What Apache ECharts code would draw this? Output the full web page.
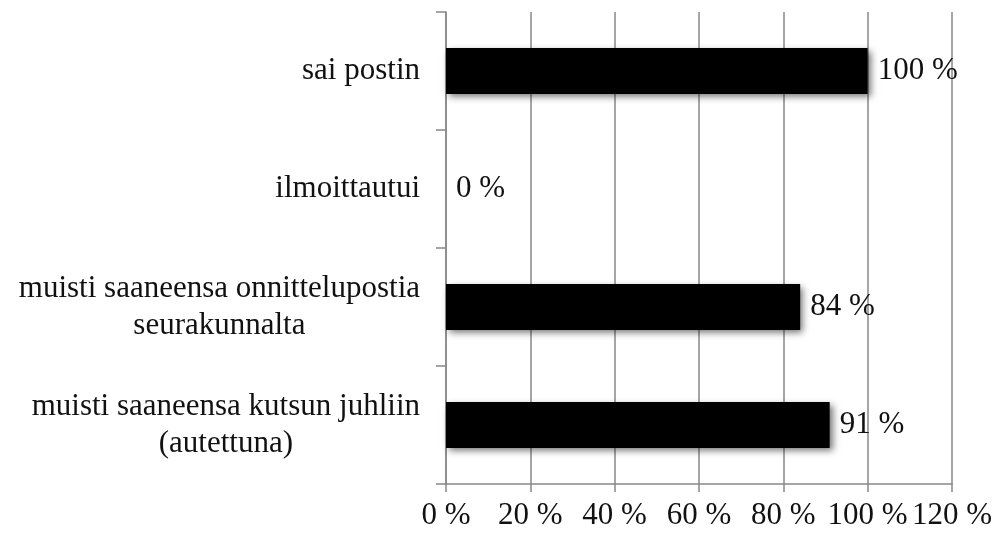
<!DOCTYPE html>
<html>
<head>
<meta charset="utf-8">
<script src="https://cdn.jsdelivr.net/npm/echarts@6/dist/echarts.min.js"></script>
<style>
  html, body { margin: 0; padding: 0; background: #fff; }
  #chart { width: 995px; height: 539px; }
</style>
</head>
<body>
<div id="chart"></div>
<script>
// categories listed bottom to top (category axis on y starts at the bottom)
const categories = [
  'muisti saaneensa kutsun juhliin\n(autettuna)',
  'muisti saaneensa onnittelupostia\nseurakunnalta',
  'ilmoittautui',
  'sai postin'
]
const values = [91, 84, 0, 100]
const xTicks = [0, 20, 40, 60, 80, 100, 120]

const font = '"Liberation Serif", "DejaVu Serif", serif'
const chart = echarts.init(document.getElementById('chart'))

chart.setOption({
  animation: false,
  grid: { left: 446, right: 43, top: 12, bottom: 55 },
  xAxis: {
    type: 'value',
    min: xTicks[0],
    max: xTicks[xTicks.length - 1],
    interval: 20,
    axisLine: { show: true, lineStyle: { color: '#888', width: 1.5 } },
    axisTick: { show: true, length: 8, lineStyle: { color: '#888', width: 1.5 } },
    splitLine: { show: true, lineStyle: { color: '#888', width: 1.5 } },
    axisLabel: {
      margin: 16,
      color: '#111',
      fontFamily: font,
      fontSize: 31,
      formatter: (v) => `${v} %`,
    },
  },
  yAxis: {
    type: 'category',
    data: categories,
    axisLine: { show: true, lineStyle: { color: '#888', width: 1.5 } },
    axisTick: { show: true, length: 10, lineStyle: { color: '#888', width: 1.5 } },
    axisLabel: {
      margin: 26,
      color: '#111',
      fontFamily: font,
      fontSize: 31,
      lineHeight: 37,
      formatter: (v) => v.split('\n').map((s) => `{c|${s}}`).join('\n'),
      rich: { c: { align: 'center', fontFamily: font, fontSize: 31, color: '#111', lineHeight: 37 } },
    },
  },
  series: [
    {
      type: 'bar',
      data: values,
      barWidth: '39%',
      itemStyle: {
        color: '#000',
        shadowColor: 'rgba(0,0,0,0.55)',
        shadowBlur: 7,
        shadowOffsetX: 3,
        shadowOffsetY: 3,
      },
      label: {
        show: true,
        position: 'right',
        distance: 10,
        color: '#111',
        fontFamily: font,
        fontSize: 31,
        formatter: (p) => `${p.value} %`,
      },
    },
  ],
})
</script>
</body>
</html>
